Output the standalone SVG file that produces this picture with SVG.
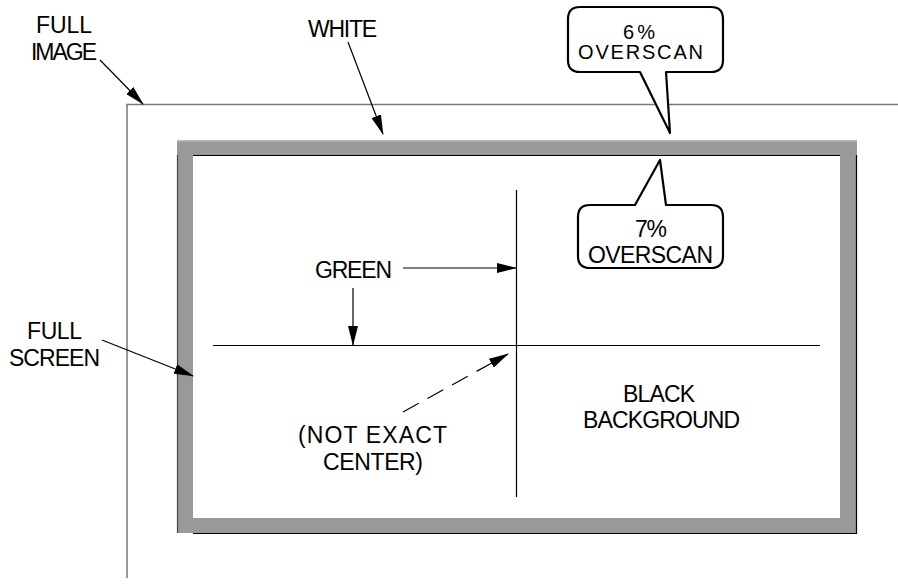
<svg xmlns="http://www.w3.org/2000/svg" width="898" height="584" viewBox="0 0 898 584">
<style>
text{font-family:"Liberation Sans",Arial,sans-serif;font-size:23px;fill:#000;text-anchor:middle}
.s{font-size:20px}
.ln{stroke:#000;stroke-width:1.2;fill:none}
.call{stroke:#000;stroke-width:2.2;fill:#fff;stroke-linejoin:round}
</style>
<defs>
<marker id="ah" markerWidth="20" markerHeight="10" refX="19" refY="5" orient="auto" markerUnits="userSpaceOnUse">
<path d="M0,0 L20,5 L0,10 Z" fill="#000"/>
</marker>
</defs>
<rect width="898" height="584" fill="#fff"/>
<g id="full-image">
<path d="M127,578 V104.5 H898" stroke="#777" stroke-width="1.5" fill="none"/>
</g>
<g id="full-screen-frame">
<rect x="177" y="140" width="680" height="393" fill="#999"/>
<rect x="177" y="140" width="680" height="1.5" fill="#bbb"/>
<rect x="193" y="155" width="647" height="363" fill="#fff"/>
<path d="M193,155.5 H840" stroke="#000" stroke-width="1.2"/>
<path d="M856.5,155 V533.5 H193" stroke="#000" stroke-width="1.2" fill="none"/>
<path d="M177.5,155 V533" stroke="#444" stroke-width="1.2"/>
</g>
<g id="green-cross">
<path d="M516.5,190 V497" class="ln"/>
<path d="M213,345.5 H820" class="ln"/>
</g>
<g id="connectors">
<path d="M100,60 L143,104" class="ln" marker-end="url(#ah)"/>
<path d="M348,42 L383,134" class="ln" marker-end="url(#ah)"/>
<path d="M102,340 L193,376" class="ln" marker-end="url(#ah)"/>
<path d="M403,268 H516" class="ln" marker-end="url(#ah)"/>
<path d="M353,288 V345" class="ln" marker-end="url(#ah)"/>
<path d="M403,412 L508,354" class="ln" stroke-dasharray="18,10" marker-end="url(#ah)"/>
</g>
<g id="label-full-image">
<text x="64" y="33" textLength="56" lengthAdjust="spacing">FULL</text>
<text x="64" y="60" textLength="66" lengthAdjust="spacing">IMAGE</text>
</g>
<g id="label-white">
<text x="342.5" y="37" textLength="69" lengthAdjust="spacing">WHITE</text>
</g>
<g id="label-full-screen">
<text x="54.5" y="339" textLength="55" lengthAdjust="spacing">FULL</text>
<text x="54.5" y="366" textLength="91" lengthAdjust="spacing">SCREEN</text>
</g>
<g id="label-green">
<text x="353.5" y="278" textLength="77" lengthAdjust="spacing">GREEN</text>
</g>
<g id="label-not-exact">
<text x="372.5" y="443" textLength="149" lengthAdjust="spacing">(NOT EXACT</text>
<text x="373" y="470" textLength="100" lengthAdjust="spacing">CENTER)</text>
</g>
<g id="label-black">
<text x="659" y="402" textLength="72" lengthAdjust="spacing">BLACK</text>
<text x="661.5" y="428" textLength="157" lengthAdjust="spacing">BACKGROUND</text>
</g>
<g id="callout-6">
<path class="call" d="M580,7 H711 Q723,7 723,19 V60 Q723,72 711,72 H666 L670,133 L640,72 H580 Q568,72 568,60 V19 Q568,7 580,7 Z"/>
<text class="s" x="639" y="39" textLength="32" lengthAdjust="spacing">6%</text>
<text class="s" x="640.5" y="59" textLength="125" lengthAdjust="spacing">OVERSCAN</text>
</g>
<g id="callout-7">
<path class="call" d="M590,205 H635 L660,160 L666,205 H711 Q723,205 723,217 V256 Q723,268 711,268 H590 Q578,268 578,256 V217 Q578,205 590,205 Z"/>
<text x="651" y="237" textLength="32" lengthAdjust="spacing">7%</text>
<text x="650.5" y="263" textLength="125" lengthAdjust="spacing">OVERSCAN</text>
</g>
</svg>
